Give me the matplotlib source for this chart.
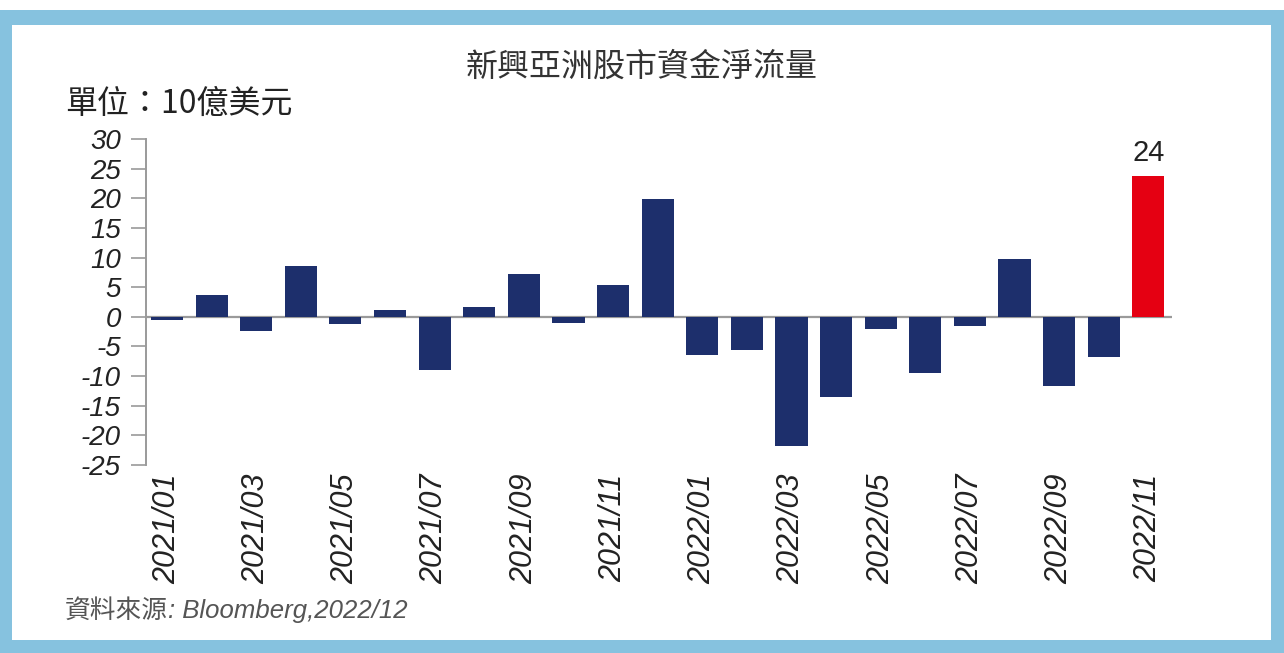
import matplotlib
matplotlib.use("Agg")
import matplotlib.pyplot as plt
from matplotlib.patches import Rectangle

# データ（単位：10億美元）
months = ["2021/01", "2021/02", "2021/03", "2021/04", "2021/05", "2021/06",
          "2021/07", "2021/08", "2021/09", "2021/10", "2021/11", "2021/12",
          "2022/01", "2022/02", "2022/03", "2022/04", "2022/05", "2022/06",
          "2022/07", "2022/08", "2022/09", "2022/10", "2022/11"]
flows = [-0.6, 3.6, -2.4, 8.6, -1.2, 1.2, -9.0, 1.7, 7.2, -1.0, 5.3, 19.8,
         -6.4, -5.6, -21.8, -13.5, -2.1, -9.4, -1.6, 9.8, -11.7, -6.7, 23.7]
yticks = [-25, -20, -15, -10, -5, 0, 5, 10, 15, 20, 25, 30]
last_label = "24"

title = "新興亞洲股市資金淨流量"
unit = "單位：10億美元"
source_cjk = "資料來源"
source_latin = ": Bloomberg,2022/12"

NAVY = "#1d2f6c"
RED = "#e50012"
BORDER = "#86c2df"
GRAY = "#9a9a9a"
CJK = ["Noto Sans CJK TC", "DejaVu Sans"]
LAT = ["Liberation Sans", "DejaVu Sans"]

fig = plt.figure(figsize=(12.84, 6.53), dpi=100)
fig.patch.set_facecolor("white")

# 外枠（青）と内側の白パネル
fig.add_artist(Rectangle((0, 0), 1, 1 - 10 / 653, transform=fig.transFigure,
                         facecolor=BORDER, edgecolor="none", zorder=-2))
fig.add_artist(Rectangle((12 / 1284, 13 / 653), 1 - 25 / 1284, 1 - 38 / 653,
                         transform=fig.transFigure, facecolor="white",
                         edgecolor="none", zorder=-1))

ax = fig.add_axes([146 / 1284, (653 - 465) / 653, (1172 - 146) / 1284, (465 - 139) / 653])
ax.set_facecolor("none")

x = list(range(len(flows)))
colors = [NAVY] * (len(flows) - 1) + [RED]
ax.bar(x, flows, width=0.72, color=colors, zorder=2)
ax.axhline(0, color=GRAY, lw=1.6, zorder=1)

ax.set_xlim(-0.47, 22.53)
ax.set_ylim(-25, 30)
ax.set_yticks(yticks)
ax.set_yticklabels([str(v) for v in yticks], family=LAT, style="italic",
                   fontsize=20, color="#222222")
ax.set_xticks(x[::2])
ax.set_xticklabels(months[::2], rotation=90, family=LAT, style="italic",
                   fontsize=22, color="#222222")
ax.tick_params(axis="x", length=0, pad=6)
ax.tick_params(axis="y", length=11, width=1.2, color=GRAY, pad=7)

for side in ["top", "right", "bottom"]:
    ax.spines[side].set_visible(False)
ax.spines["left"].set_color(GRAY)
ax.spines["left"].set_linewidth(1.4)

ax.text(x[-1], flows[-1] + 1.6, last_label, ha="center", va="bottom",
        family=LAT, fontsize=21, color="#222222")

fig.text(0.5, 1 - 67 / 653, title, ha="center", va="center",
         family=CJK, fontsize=23, color="#333333")
fig.text(65 / 1284, 1 - 104 / 653, unit, ha="left", va="center",
         family=CJK, fontsize=23, color="#222222")
src = fig.text(65 / 1284, 1 - 611 / 653, source_cjk, ha="left", va="center",
               family=CJK, fontsize=18.5, color="#555555")
fig.canvas.draw()
bb = src.get_window_extent()
fig.text(bb.x1 / 1284, 1 - 611 / 653, source_latin, ha="left", va="center",
         family=LAT, style="italic", fontsize=18.5, color="#555555")

fig.savefig("out.png", dpi=100)
